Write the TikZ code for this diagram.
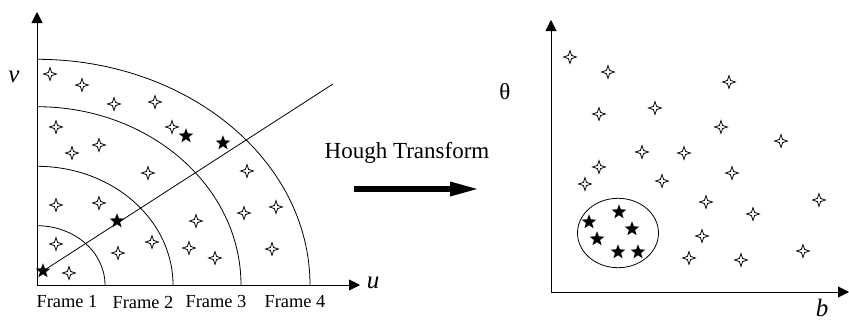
\documentclass[tikz,border=0pt]{standalone}
\usepackage{fontspec}
\setmainfont{Liberation Serif}
\usetikzlibrary{shapes.geometric,arrows.meta}
\begin{document}
\begin{tikzpicture}[x=1pt,y=-1pt,
  wstar/.style={star,star points=4,star point ratio=2.9,minimum size=13pt,inner sep=0pt,draw,fill=white,line width=0.75pt},
  bstar/.style={star,star points=5,star point ratio=2.4,minimum size=15.5pt,inner sep=0pt,fill=black},
  axisline/.style={line width=0.9pt,-{Triangle[length=11pt,width=11pt]}},
  arcline/.style={line width=0.8pt},
  framelab/.style={font=\fontsize{18.4}{20}\selectfont,inner sep=0pt},
  axlab/.style={font=\fontsize{25}{28}\selectfont\itshape,inner sep=0pt},
  bigarrow/.style={line width=6pt,-{Triangle[length=30pt,width=13pt]}}]
\useasboundingbox (0,0) rectangle (849,322);
% ---------- left panel ----------
\coordinate (O1) at (37,285);
\coordinate (Y1) at (37,12);
\coordinate (X1) at (360,285);
\draw[axisline] (O1) -- (Y1);
\draw[axisline] (O1) -- (X1);
\draw[arcline] (37,225.7) arc[start angle=-90,end angle=0,x radius=68,y radius=59.3];
\draw[arcline] (37,166.3) arc[start angle=-90,end angle=0,x radius=136,y radius=118.7];
\draw[arcline] (37,106.7) arc[start angle=-90,end angle=0,x radius=204,y radius=178.3];
\draw[arcline] (37,59.3) arc[start angle=-90,end angle=0,x radius=273,y radius=225.7];
\coordinate (L2) at (333,84);
\coordinate (L1) at (43,271);
\draw[arcline] (L1) -- (L2);
\node[bstar] (b1) at (L1) {};
\node[bstar] (b2) at (117,221) {};
\node[bstar] (b3) at (186,136) {};
\node[bstar] (b4) at (223,143) {};
\foreach \p [count=\i] in {(50,74),(82,85),(114,104),(155,102),(56,127),(172,127),(99,145),(72,153),(148,173),(247,171),(56,205),(99,203),(276,207),(244,213),(196,221),(152,242),(56,244),(118,253),(189,248),(215,258),(272,249),(69,273)}
  \node[wstar] (lw\i) at \p {};
\node[axlab] (v) at (14,77) {v};
\node[axlab] (u) at (373,283) {u};
\node[framelab] (f1) at (67,302) {Frame 1};
\node[framelab] (f2) at (143,302) {Frame 2};
\node[framelab] (f3) at (216,301) {Frame 3};
\node[framelab] (f4) at (295,302) {Frame 4};
% ---------- middle ----------
\node[font=\fontsize{23}{26}\selectfont,anchor=base,inner sep=0pt] (ht) at (407,158) {Hough Transform};
\coordinate (hA) at (354,189);
\coordinate (hB) at (480,189);
\draw[bigarrow] (hA) -- (hB);
% ---------- right panel ----------
\coordinate (O2) at (551,292);
\coordinate (Y2) at (551,20);
\coordinate (X2) at (849,292);
\draw[axisline] (O2) -- (Y2);
\draw[axisline] (O2) -- (X2);
\node[draw,arcline,ellipse,minimum width=81pt,minimum height=69.4pt,inner sep=0pt] (cl) at (618,233) {};
\foreach \p [count=\i] in {(589,222),(619,212),(632,229),(597,239),(618,252),(638,252)}
  \node[bstar] (rb\i) at \p {};
\foreach \p [count=\i] in {(570,57),(608,72),(729,82),(655,108),(599,114),(721,127),(781,141),(642,152),(684,153),(599,167),(732,173),(585,184),(662,181),(819,200),(706,202),(753,214),(702,236),(803,251),(689,258),(741,260)}
  \node[wstar] (rw\i) at \p {};
\node[font=\fontsize{23}{26}\selectfont,inner sep=0pt] (th) at (505,92) {θ};
\node[axlab,anchor=base] (b) at (822,316) {b};
\end{tikzpicture}
\end{document}
